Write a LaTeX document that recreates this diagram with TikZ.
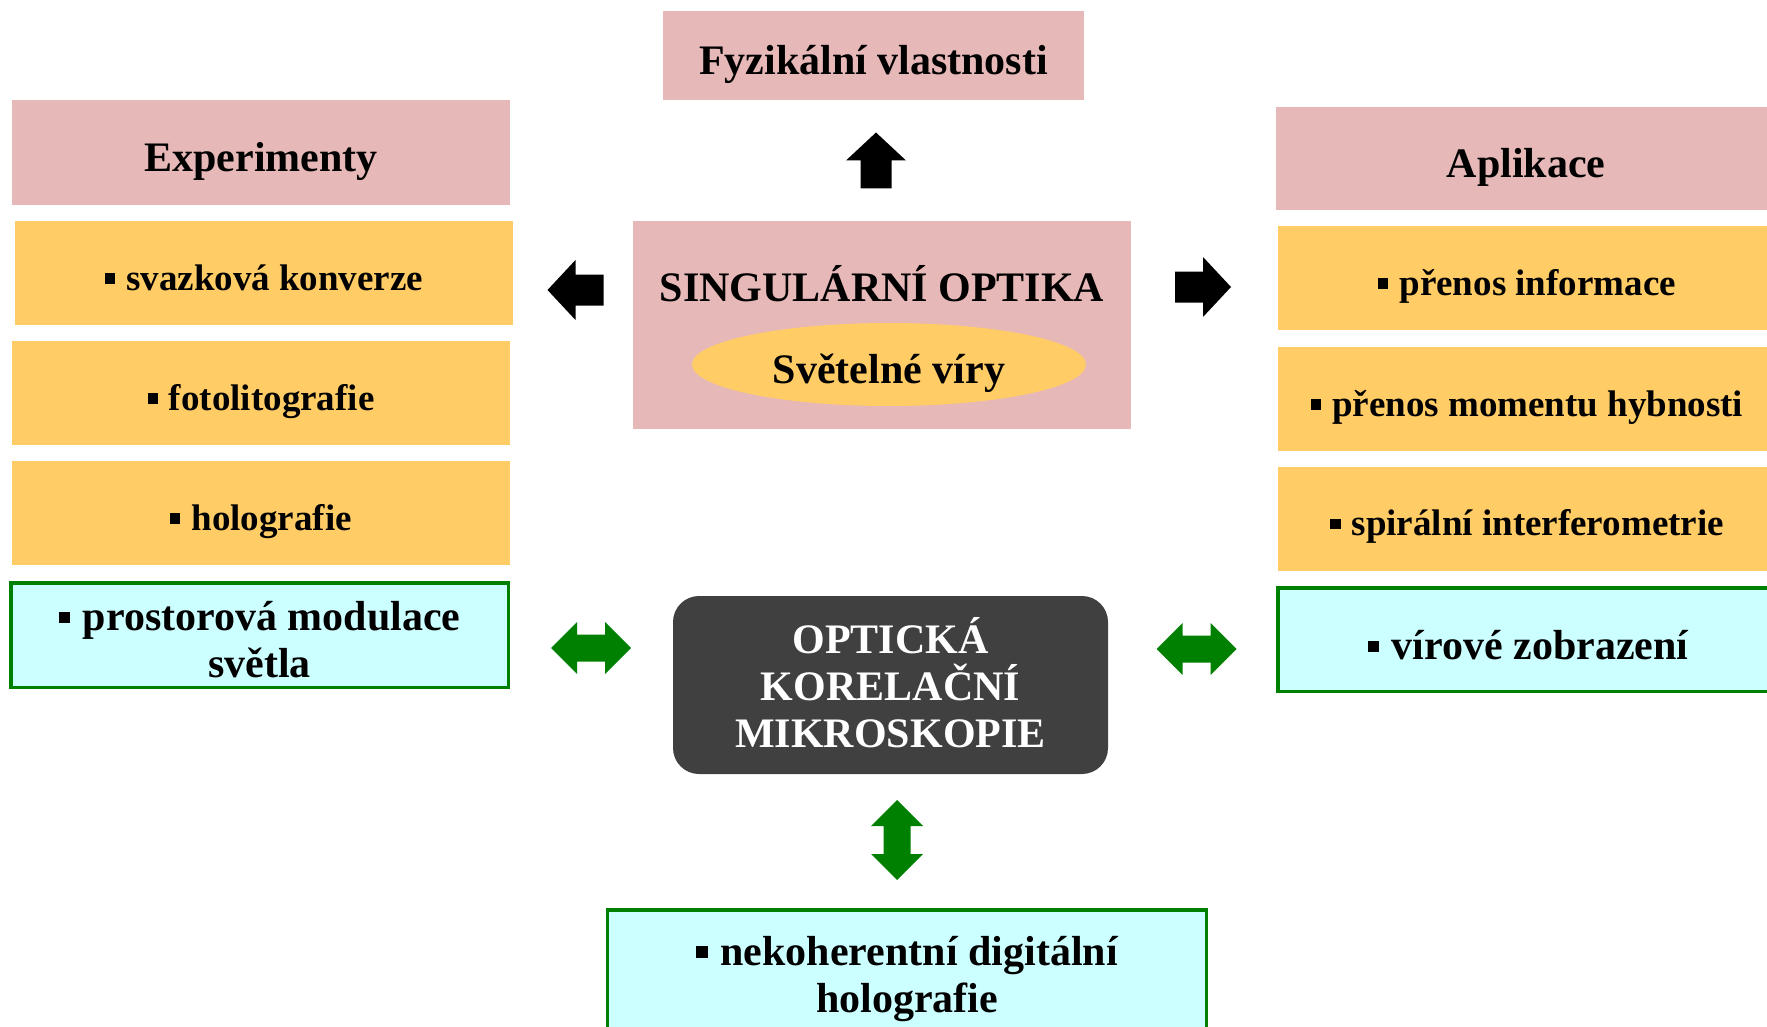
\documentclass[tikz,border=0pt]{standalone}
\usepackage{fontspec}
\setmainfont{Liberation Serif}
\usetikzlibrary{shapes.geometric}

\definecolor{ruzova}{HTML}{E6B8B7}
\definecolor{oranzova}{HTML}{FFCC66}
\definecolor{azurova}{HTML}{CCFFFF}
\definecolor{zelena}{HTML}{008000}
\definecolor{tmava}{HTML}{404040}

\newcommand{\bod}{\rule[0.17em]{0.28em}{0.28em}\hspace{0.3em}}
\newcommand{\velky}{\fontsize{42}{47}\selectfont\bfseries}
\newcommand{\maly}{\fontsize{37}{42}\selectfont\bfseries}

\begin{document}
\begin{tikzpicture}[x=1pt,y=-1pt,
    nadpis/.style={fill=ruzova,inner sep=0pt,font=\velky,
        text height=42.3pt,text depth=5pt},
    polozka/.style={fill=oranzova,inner sep=0pt,minimum width=498pt,
        minimum height=104pt,font=\maly,text height=37.8pt,text depth=3.8pt},
    vazba/.style={fill=azurova,draw=zelena,line width=3.5pt,inner sep=0pt,
        font=\velky,align=center},
    sipka/.pic={\fill (-15.5,28) -- (-15.5,0) -- (-30,0) -- (0,-28)
        -- (30,0) -- (15.5,0) -- (15.5,28) -- cycle;},
    dvojsipka/.pic={\fill[zelena] (-40,0) -- (-14,-26) -- (-14,-13.5)
        -- (14,-13.5) -- (14,-26) -- (40,0) -- (14,26) -- (14,13.5)
        -- (-14,13.5) -- (-14,26) -- cycle;}]
    \useasboundingbox (0,0) rectangle (1767,1027);

    % horni nadpis
    \node[nadpis,minimum width=421pt,minimum height=89pt] (fyz)
        at (873.5,55.5) {Fyzikální vlastnosti};

    % levy sloupec
    \node[nadpis,minimum width=498pt,minimum height=105pt] (exp)
        at (261,152.5) {Experimenty};
    \node[polozka] (svaz) at (264,273) {\bod svazková konverze};
    \node[polozka] (foto) at (261,393) {\bod fotolitografie};
    \node[polozka] (holo) at (261,513) {\bod holografie};
    \node[vazba,minimum width=497.5pt,minimum height=104.5pt] (prost)
        at (259.5,635) {\rule{0pt}{38.5pt}\bod prostorová modulace\\světla};

    % stred
    \node[nadpis,minimum width=498pt,minimum height=208pt] (sing)
        at (882,325) {};
    \node[font=\velky,anchor=base] (nazev) at (882,301) {SINGULÁRNÍ OPTIKA};
    \node[ellipse,fill=oranzova,minimum width=394pt,minimum height=83pt,
        inner sep=0pt,font=\velky,text height=42.3pt,text depth=5pt]
        (viry) at (889,364.5) {Světelné víry};

    % pravy sloupec
    \node[nadpis,minimum width=500pt,minimum height=103pt] (apl)
        at (1526,158.5) {Aplikace};
    \node[polozka] (pren) at (1527,278) {\bod přenos informace};
    \node[polozka] (mom) at (1527,399) {\bod přenos momentu hybnosti};
    \node[polozka] (spir) at (1527,518.5) {\bod spirální interferometrie};
    \node[vazba,minimum width=500pt,minimum height=103.5pt,
        text height=41pt,text depth=1pt] (vir)
        at (1528,639.5) {\bod vírové zobrazení};

    % mikroskopie
    \node[fill=tmava,rounded corners=26pt,minimum width=435pt,
        minimum height=178pt,text=white,font=\velky,align=center,
        inner sep=0pt] (okm) at (890.5,685)
        {OPTICKÁ\\KORELAČNÍ\\MIKROSKOPIE\rule[-5.6pt]{0pt}{0pt}};
    \node[vazba,minimum width=599pt,minimum height=132pt] (ndh)
        at (907,976) {\rule{0pt}{35pt}\bod nekoherentní digitální\\holografie};

    % sipky
    \pic at (876,160.5) {sipka};
    \pic[rotate=90] at (575.5,290) {sipka};
    \pic[rotate=-90] at (1203,287) {sipka};
    \pic at (591,648) {dvojsipka};
    \pic at (1196.5,649) {dvojsipka};
    \pic[rotate=90] at (897,840) {dvojsipka};
\end{tikzpicture}
\end{document}
